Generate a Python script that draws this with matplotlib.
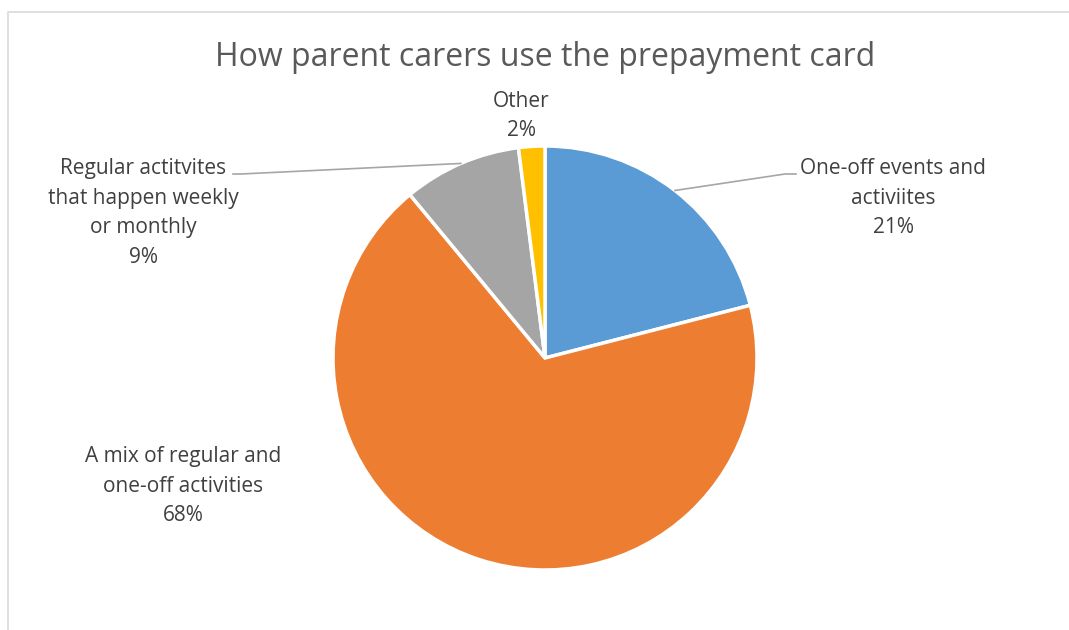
import numpy as np
import matplotlib
matplotlib.use("Agg")
import matplotlib.pyplot as plt

W, H = 1069, 630

title = "How parent carers use the prepayment card"
labels = [
    "One-off events and\nactiviites",
    "A mix of regular and\none-off activities",
    "Regular actitvites\nthat happen weekly\nor monthly",
    "Other",
]
shares = [21, 68, 9, 2]
colors = ["#5B9BD5", "#ED7D31", "#A5A5A5", "#FFC000"]

plt.rcParams["font.family"] = ["Open Sans", "DejaVu Sans"]

fig = plt.figure(figsize=(W / 100, H / 100), dpi=100)
ax = fig.add_axes([0, 0, 1, 1])

cx, cy, r = 545, H - 358, 212
wedges, _ = ax.pie(
    shares,
    colors=colors,
    center=(cx, cy),
    radius=r,
    startangle=90,
    counterclock=False,
    wedgeprops=dict(edgecolor="white", linewidth=2.5),
    frame=True,
)
ax.set_xlim(0, W)
ax.set_ylim(0, H)
ax.set_aspect("equal")
ax.axis("off")

# chart area border (only top and left visible)
ax.plot([8, 8, W + 5], [-5, H - 12, H - 12], color="#D9D9D9", lw=1.2)

ax.text(545, H - 58, title, ha="center", va="center", fontsize=23, color="#595959")

# label text positions (center of the text block)
label_pos = [(893, 198), (183, 486), (143, 213), (521, 116)]
for w, lab, s, (lx, ly) in zip(wedges, labels, shares, label_pos):
    ax.text(lx, H - ly, f"{lab}\n{s}%", ha="center", va="center",
            fontsize=15, color="#404040", linespacing=1.55)

# leader lines from wedge edge to the labels
def edge_point(w):
    th = np.deg2rad((w.theta1 + w.theta2) / 2)
    return cx + r * np.cos(th), cy + r * np.sin(th)

x0, y0 = edge_point(wedges[0])
ax.plot([x0, 785, 796], [y0, H - 174, H - 174], color="#A6A6A6", lw=1.2)
x2, y2 = edge_point(wedges[2])
ax.plot([x2, 241, 233], [y2, H - 174, H - 174], color="#A6A6A6", lw=1.2)

fig.savefig("out.png", dpi=100)
